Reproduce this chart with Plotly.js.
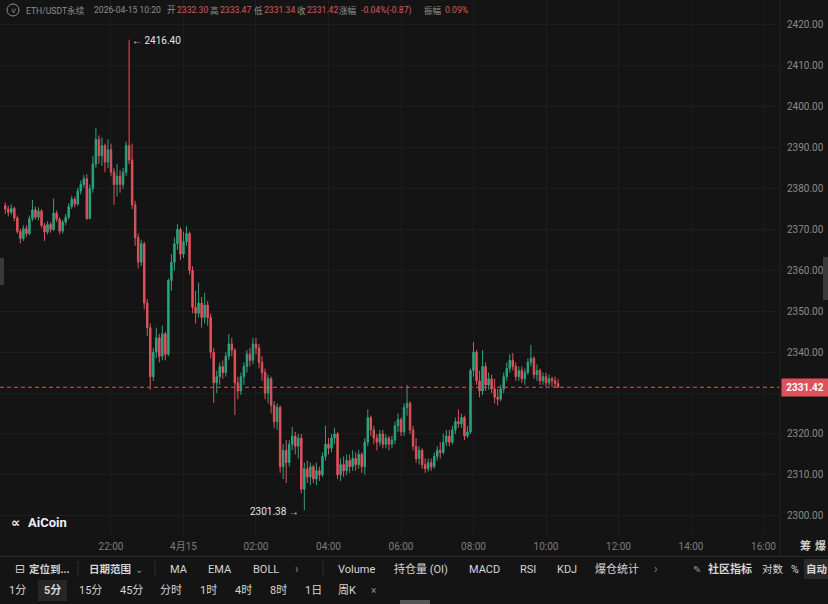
<!DOCTYPE html>
<html><head><meta charset="utf-8">
<script src="https://cdn.plot.ly/plotly-3.0.1.min.js"></script>
<style>html,body{margin:0;padding:0;background:#141414;}#chart{width:828px;height:604px;}</style>
</head><body><div id="chart"></div>
<script>
// ---- data (5-minute candles, ETH/USDT perpetual) ----
const startTime = '2026-04-14T19:05:00Z';
const stepMinutes = 5;
const openP = [
 2375.8,2375.0,2374.2,2375.2,2372.8,2369.5,2367.8,2370.2,2369.0,2372.6,2374.8,2373.0,2374.5,2371.0,2369.4,2371.2,2370.0,2374.0,2372.5,2369.6,2371.8,2373.0,2375.6,2377.4,2376.2,2379.4,2381.0,2382.4,
 2372.7,2380,2386,2392,2388,2390.5,2386.5,2389.5,2384,2381,2383,2381,2384,2390.5,
 2387,2376,2368,2362,2366.5,2352,2346,2334,2340,2343.5,2339,2344.5,
 2339.5,2357.5,2362,2366.5,2370,2364,2367,2369,2360,2351,2349.5,2352,2348.5,2351.5,2348.5,2340,
 2332.5,2334,2336.5,2335,2339,2342,2340.5,2332.5,2330.5,2334,2336.5,2339.5,2338,2342,2341,2337.5,2335,2330,2333.5,2327,2323,2326.5,2312,
 2316,2313,2317.5,2319.5,2317,2319,2306.5,2311.5,2309.5,2312,2309,2311,2310,2314.5,2317.5,2316.5,2319,2320,2310,2312.5,2311,2313.5,2312,2314,2312.5,2315,
 2312,2318,2324,2321,2319,2318,2320,2317.5,2319,2317.5,2318.5,2322,2323.5,2320.5,2326.5,2327.5,2321,2317,2314,2316,2312.5,
 2311.5,2313,2312,2314.5,2316,2315.5,2318,2319.5,2318,2321,2323,2322.5,2324,2319.5,2320.5,2335.5,2340,2333,2330.5,2336.5,2332,2333.5,2331,2329,2328.5,2331,2334,2336,2338,2336.5,2334,2335.5,2333.5,2335,2337.5,2338.5,2334.5,2335.5,2333,2334,2332.5,2333.5,2333,2332.3
];
const highP = [
 2376.6,2375.8,2376.2,2375.6,2373.4,2370.2,2371.0,2371.0,2373.4,2377.2,2375.6,2375.4,2375.0,2371.6,2372.0,2371.8,2377.6,2374.6,2373.0,2372.4,2373.8,2376.4,2378.2,2378.0,2380.2,2382.0,2383.4,2383.5,
 2381,2388,2394.8,2393,2392.5,2391,2392,2391,2385,2386,2384.5,2385,2391.5,2416.4,
 2391,2377,2369,2367.5,2367,2353,2347,2341,2346,2344.5,2346.5,2345,
 2358,2364,2368,2371.3,2370.5,2369.5,2370.8,2369.5,2361,2355,2357,2353.5,2354.5,2352.5,2349.5,2341,
 2335.5,2337.5,2338,2340,2344.4,2343.5,2341,2334,2335,2337.5,2340.5,2341,2343.5,2343.5,2342,2339,2336,2334.5,2334,2328,2327.5,2327,2317.5,
 2318.5,2318.5,2321.7,2320.5,2320,2320,2313,2313.5,2313,2312.5,2313,2312,2315.5,2322,2319,2320,2321.5,2320.5,2314,2314.5,2315,2315,2316,2315.5,2316,2315.5,
 2319,2326,2324.5,2322,2320,2321,2321,2320,2319.5,2319.5,2323,2325,2324,2327.5,2332,2328,2322,2319,2317,2316.5,2314,
 2314,2314,2315.5,2317,2318,2320,2321,2321,2322,2324,2326,2325,2324.5,2322,2336,2342.5,2340.5,2335.5,2340.5,2337.5,2335,2334.5,2333.5,2331,2332,2335,2337.5,2339.5,2339.8,2337.5,2336.5,2336.5,2336,2338.5,2341.8,2339,2337,2336,2335,2335,2334.5,2334,2334,2333.47
];
const lowP = [
 2373.8,2373.2,2373.6,2372.0,2369.0,2366.6,2367.2,2368.2,2368.6,2372.0,2372.4,2372.2,2370.4,2367.2,2368.8,2369.2,2369.6,2371.8,2368.8,2369.0,2371.0,2372.4,2375.0,2375.4,2375.8,2378.6,2380.2,2372.3,
 2372.5,2379,2385,2386,2385.5,2384,2385,2383,2376,2378,2379,2380,2383,2386,
 2375,2366,2360.5,2361,2350.5,2344,2330.8,2333,2338.5,2337.5,2338,2338,
 2339,2355,2360,2365,2362.5,2363,2366,2359,2349.5,2347,2348.5,2346,2347,2346.5,2338.5,2327.6,
 2330,2332,2333.5,2334,2338,2339,2324.6,2328.5,2329.5,2332,2335,2336.5,2337,2339.5,2336,2333,2328.5,2327.5,2325,2321.5,2321,2310.5,2309,
 2308,2312,2316,2315,2314,2305.5,2301.38,2308,2307.5,2308,2307.5,2308.5,2309.5,2313.5,2315,2315.5,2317.5,2309,2308.5,2309.5,2310,2310.5,2311,2311,2311.5,2310.5,
 2310,2317,2319.5,2317.5,2316,2317,2316.5,2316.5,2316,2316.5,2317.5,2320.5,2319.5,2319.5,2324.5,2320,2316,2313,2312.5,2311.5,2310.5,
 2310.8,2311,2311.5,2313.5,2314,2315,2317,2317,2317.5,2320,2321.5,2321.5,2318.5,2319,2320,2334,2332,2329,2329.5,2330.5,2330.8,2330,2327.5,2327,2328,2330,2333,2335,2335.5,2333,2333,2332.5,2332,2334.5,2336.5,2333.5,2333,2332,2332,2331.5,2331.8,2331.5,2331.5,2331.34
];
const closeP = [
 2375.0,2374.2,2375.2,2372.8,2369.5,2367.8,2370.2,2369.0,2372.6,2374.8,2373.0,2374.5,2371.0,2369.4,2371.2,2370.0,2374.0,2372.5,2369.6,2371.8,2373.0,2375.6,2377.4,2376.2,2379.4,2381.0,2382.4,2372.7,
 2380,2386,2392,2388,2390.5,2386.5,2389.5,2384,2381,2383,2381,2384,2390.5,2387,
 2376,2368,2362,2366.5,2352,2346,2334,2340,2343.5,2339,2344.5,2339.5,
 2357.5,2362,2366.5,2370,2364,2367,2369,2360,2351,2349.5,2352,2348.5,2351.5,2348.5,2340,2332.5,
 2334,2336.5,2335,2339,2342,2340.5,2332.5,2330.5,2334,2336.5,2339.5,2338,2342,2341,2337.5,2335,2330,2333.5,2327,2323,2326.5,2312,2316,
 2313,2317.5,2319.5,2317,2319,2306.5,2311.5,2309.5,2312,2309,2311,2310,2314.5,2317.5,2316.5,2319,2320,2310,2312.5,2311,2313.5,2312,2314,2312.5,2315,2312,
 2318,2324,2321,2319,2318,2320,2317.5,2319,2317.5,2318.5,2322,2323.5,2320.5,2326.5,2327.5,2321,2317,2314,2316,2312.5,2311.5,
 2313,2312,2314.5,2316,2315.5,2318,2319.5,2318,2321,2323,2322.5,2324,2319.5,2320.5,2335.5,2340,2333,2330.5,2336.5,2332,2333.5,2331,2329,2328.5,2331,2334,2336,2338,2336.5,2334,2335.5,2333.5,2335,2337.5,2338.5,2334.5,2335.5,2333,2334,2332.5,2333.5,2333,2332.3,2331.42
];
const highLabel = 2416.40, lowLabel = 2301.38, lastPrice = 2331.42;
const highTime = '2026-04-14 22:30', lowTime = '2026-04-15 03:20';
const xTickVals = ['2026-04-14 22:00','2026-04-15 00:00','2026-04-15 02:00','2026-04-15 04:00','2026-04-15 06:00','2026-04-15 08:00','2026-04-15 10:00','2026-04-15 12:00','2026-04-15 14:00','2026-04-15 16:00'];
const xTickText = ['22:00','4月15','02:00','04:00','06:00','08:00','10:00','12:00','14:00','16:00'];
const yTickVals = [2300,2310,2320,2330,2340,2350,2360,2370,2380,2390,2400,2410,2420];
// 2330.00 sits behind the last-price tag, so its label is left blank
const yTickText = ['2300.00','2310.00','2320.00','','2340.00','2350.00','2360.00','2370.00','2380.00','2390.00','2400.00','2410.00','2420.00'];

// ---- build times ----
const t0 = Date.parse(startTime);
const times = openP.map((_, i) => new Date(t0 + i*stepMinutes*60000).toISOString().slice(0,16).replace('T',' '));

const RED = '#e0525b', GREEN = '#2ba381', BG = '#141414', GRID = '#1d1d1d';
const W = 828, H = 604, PL = 0, PR = 780, PT = 0, PB = 535;
const px = x => (x - PL) / (PR - PL);
const py = y => 1 - (y - PT) / (PB - PT);

const trace = {
  type: 'candlestick', x: times, open: openP, high: highP, low: lowP, close: closeP,
  increasing: {line: {color: GREEN, width: 1}, fillcolor: GREEN},
  decreasing: {line: {color: RED, width: 1}, fillcolor: RED},
  whiskerwidth: 0, hoverinfo: 'skip', showlegend: false
};

const ann = [];
function T(x, y, text, opt) {
  opt = opt || {};
  ann.push({xref:'paper', yref:'paper', x: px(x), y: py(y), text: text, showarrow:false,
    xanchor: opt.xa || 'center', yanchor:'middle',
    font: {family: opt.fam || "Roboto, 'Noto Sans CJK SC', sans-serif", size: opt.size || 11, color: opt.color || '#d6d6d6', weight: opt.bold ? 'bold' : 'normal'},
    bgcolor: opt.bg, borderpad: opt.pad || 0});
}
const GRAY = '#8f8f8f';
const HS = 8.6;
// header
T(25, 10, 'ETH/USDT永续', {xa:'left', size:HS, color:GRAY});
T(93, 10, '2026-04-15 10:20', {xa:'left', size:HS, color:GRAY});
T(166, 10, '开', {xa:'left', size:HS, color:GRAY});
T(176, 10, '2332.30', {xa:'left', size:HS, color:RED});
T(209, 10, '高', {xa:'left', size:HS, color:GRAY});
T(219, 10, '2333.47', {xa:'left', size:HS, color:RED});
T(253, 10, '低', {xa:'left', size:HS, color:GRAY});
T(263, 10, '2331.34', {xa:'left', size:HS, color:RED});
T(296, 10, '收', {xa:'left', size:HS, color:GRAY});
T(306, 10, '2331.42', {xa:'left', size:HS, color:RED});
T(338, 10, '涨幅', {xa:'left', size:HS, color:GRAY});
T(360, 10, '-0.04%(-0.87)', {xa:'left', size:HS, color:RED});
T(423, 10, '振幅', {xa:'left', size:HS, color:GRAY});
T(444, 10, '0.09%', {xa:'left', size:HS, color:RED});
T(13, 10.5, '˅', {size:9, color:GRAY});
// high / low labels
ann.push({x: highTime, y: highLabel, xref:'x', yref:'y', text:'← 2416.40', showarrow:false, xanchor:'left', yanchor:'middle', xshift:1, yshift:-1,
  font:{family:'Roboto, sans-serif', size:10, color:'#e6e6e6'}});
ann.push({x: lowTime, y: lowLabel, xref:'x', yref:'y', text:'2301.38 →', showarrow:false, xanchor:'right', yanchor:'middle', xshift:-3, yshift:-1,
  font:{family:'Roboto, sans-serif', size:10, color:'#e6e6e6'}});
// last price tag
ann.push({xref:'paper', yref:'y', x: 1, y: lastPrice, xanchor:'left', yanchor:'middle', xshift:1, text:'<b>2331.42</b>', showarrow:false,
  bgcolor: RED, borderpad: 3, font:{family:'Roboto, sans-serif', size:10, color:'#ffffff'}, width: 40});
// logo
T(10, 522, '∝', {xa:'left', size:13, color:'#f0f0f0', bold:true, fam:'DejaVu Sans'});
T(27, 522, 'AiCoin', {xa:'left', size:13, color:'#f0f0f0', bold:true});
// right bottom
T(805, 546, '筹', {size:11, color:'#cfcfcf', bold:true});
T(820, 546, '爆', {size:11, color:'#cfcfcf', bold:true});
// toolbar row 1
const R1 = 569;
T(20, R1, '⊟', {size:12, color:'#cfcfcf', fam:'DejaVu Sans'});
T(50, R1, '定位到...', {size:10.5, bold:true});
T(110, R1, '日期范围', {size:10.5, bold:true});
T(139, R1, '⌄', {size:10, color:GRAY, fam:'DejaVu Sans'});
T(179, R1, 'MA', {size:11});
T(220, R1, 'EMA', {size:11});
T(266, R1, 'BOLL', {size:11});
T(297, R1, '›', {size:12, color:GRAY});
T(356, R1, 'Volume', {size:11});
T(421, R1, '持仓量 (OI)', {size:11});
T(484, R1, 'MACD', {size:11});
T(528, R1, 'RSI', {size:11});
T(567, R1, 'KDJ', {size:11});
T(617, R1, '爆仓统计', {size:11});
T(656, R1, '›', {size:12, color:GRAY});
T(697, R1, '✎', {size:10, color:GRAY, fam:'DejaVu Sans'});
T(730, R1, '社区指标', {size:11, bold:true});
T(773, R1, '对数', {size:10.5});
T(795, R1, '%', {size:10.5});
T(816, R1, '自动', {size:10.5, bold:true});
// toolbar row 2
const R2 = 590;
[['1分',17],['15分',90],['45分',131],['分时',171],['1时',208],['4时',243],['8时',278],['1日',313],['周K',347]].forEach(d => T(d[1], R2, d[0], {size:11}));
T(52, R2, '5分', {size:11, bold:true});
T(373, R2, '×', {size:10, color:GRAY});

const shapes = [
  {type:'line', xref:'paper', yref:'y', x0:0, x1:1.0, y0:lastPrice, y1:lastPrice, line:{color:RED, width:1, dash:'4px,3px'}},
  {type:'line', xref:'paper', yref:'paper', x0:1, x1:1, y0:py(0), y1:py(556), line:{color:'#222', width:1}},
  {type:'line', xref:'paper', yref:'paper', x0:px(0), x1:px(828), y0:py(556.5), y1:py(556.5), line:{color:'#2a2a2a', width:1}},
  {type:'circle', xref:'paper', yref:'paper', x0:px(7), x1:px(19), y0:py(4), y1:py(16), line:{color:GRAY, width:1}},
  {type:'line', xref:'paper', yref:'paper', x0:px(78), x1:px(78), y0:py(561), y1:py(577), line:{color:'#2e2e2e', width:1}},
  {type:'line', xref:'paper', yref:'paper', x0:px(155), x1:px(155), y0:py(561), y1:py(577), line:{color:'#2e2e2e', width:1}},
  {type:'line', xref:'paper', yref:'paper', x0:px(323), x1:px(323), y0:py(561), y1:py(577), line:{color:'#2e2e2e', width:1}},
  {type:'rect', xref:'paper', yref:'paper', x0:px(804), x1:px(828), y0:py(559), y1:py(579), fillcolor:'#2a2a2a', line:{width:0}, layer:'below'},
  {type:'rect', xref:'paper', yref:'paper', x0:px(38), x1:px(67), y0:py(580), y1:py(601), fillcolor:'#262626', line:{width:0}, layer:'below'},
  {type:'rect', xref:'paper', yref:'paper', x0:px(0), x1:px(4), y0:py(258), y1:py(285), fillcolor:'#3a3a3a', line:{width:0}},
  {type:'rect', xref:'paper', yref:'paper', x0:px(823), x1:px(828), y0:py(257), y1:py(300), fillcolor:'#3a3a3a', line:{width:0}},
  {type:'rect', xref:'paper', yref:'paper', x0:px(400), x1:px(430), y0:py(600), y1:py(604), fillcolor:'#555', line:{width:0}}
];

const layout = {
  width: W, height: H, paper_bgcolor: BG, plot_bgcolor: BG,
  margin: {l: PL, r: W - PR, t: PT, b: H - PB},
  showlegend: false, dragmode: false, hovermode: false,
  xaxis: {type:'date', range:['2026-04-14 18:56:18','2026-04-15 16:27:18'], rangeslider:{visible:false},
    tickmode:'array', tickvals:xTickVals, ticktext:xTickText, showgrid:true, gridcolor:GRID, zeroline:false,
    showline:false, ticks:'', ticklabelstandoff:4, tickfont:{family:'Roboto, "Noto Sans CJK SC", sans-serif', size:10, color:'#7d7d7d'}},
  yaxis: {side:'right', range:[2295.3, 2426.1], tickmode:'array', tickvals:yTickVals, ticktext:yTickText,
    showgrid:true, gridcolor:GRID, zeroline:false, showline:false, ticks:'', ticklabelstandoff:6,
    tickfont:{family:'Roboto, sans-serif', size:10, color:'#8a8a8a'}},
  annotations: ann, shapes: shapes
};
Plotly.newPlot('chart', [trace], layout, {staticPlot:true, displayModeBar:false});
</script></body></html>
